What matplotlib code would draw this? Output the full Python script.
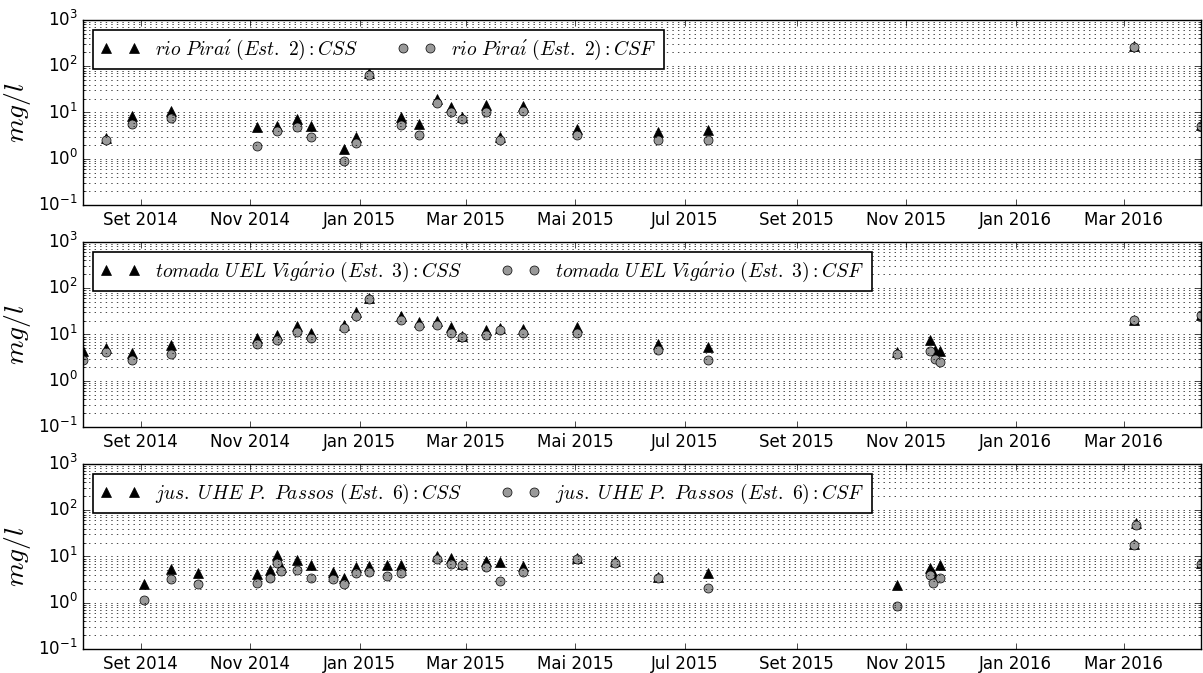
import numpy as np
import pandas as pd
import matplotlib
matplotlib.use("Agg")
import matplotlib.pyplot as plt
import matplotlib.dates as mdates
from matplotlib.ticker import FuncFormatter

# meses em portugues para os rotulos do eixo x
MESES = ["Jan", "Fev", "Mar", "Abr", "Mai", "Jun", "Jul", "Ago", "Set", "Out", "Nov", "Dez"]

# Est. 2 - rio Pirai
datas1 = ["2014-08-13", "2014-08-27", "2014-09-18", "2014-11-05", "2014-11-16", "2014-11-27",
          "2014-12-05", "2014-12-23", "2014-12-30", "2015-01-06", "2015-01-24", "2015-02-03",
          "2015-02-13", "2015-02-21", "2015-02-27", "2015-03-12", "2015-03-20", "2015-04-02",
          "2015-05-02", "2015-06-16", "2015-07-14", "2016-03-07", "2016-04-13"]
css1 = [2.8, 8.6, 11, 4.8, 5.0, 7.1, 5.0, 1.6, 3.0, 70, 8.0, 5.5, 19.7, 13, 7.8, 14.6, 3.0,
        14, 4.5, 3.8, 4.2, 270, 5.3]
csf1 = [2.5, 5.7, 7.5, 1.9, 3.9, 4.9, 3.0, 0.9, 2.2, 64, 5.3, 3.3, 16, 10, 7.4, 10.5, 2.6,
        10.7, 3.2, 2.6, 2.6, 260, 5.1]

# Est. 3 - tomada UEL Vigario
datas2 = ["2014-07-31", "2014-08-13", "2014-08-27", "2014-09-18", "2014-11-05", "2014-11-16",
          "2014-11-27", "2014-12-05", "2014-12-23", "2014-12-30", "2015-01-06", "2015-01-24",
          "2015-02-03", "2015-02-13", "2015-02-21", "2015-02-27", "2015-03-12", "2015-03-20",
          "2015-04-02", "2015-05-02", "2015-06-16", "2015-07-14", "2015-10-27", "2015-11-14",
          "2015-11-17", "2015-11-20", "2016-03-07", "2016-04-13"]
css2 = [4.5, 5.0, 4.0, 5.8, 8.4, 9.8, 15, 10.8, 16.3, 30.7, 62, 24.7, 18.3, 20, 14.5, 9.2,
        12.3, 13.5, 13.2, 14.3, 6.2, 5.4, 4.1, 7.7, 4.6, 4.4, 21, 27]
csf2 = [2.85, 4.1, 2.85, 3.8, 6.3, 7.7, 11.3, 8.4, 13.6, 25.6, 58.7, 20.3, 15, 15.8, 10.8,
        8.8, 9.9, 12.7, 10.8, 10.8, 4.7, 2.85, 3.85, 4.3, 3.0, 2.5, 20.3, 26]

# Est. 6 - jusante UHE P. Passos
datas3 = ["2014-09-03", "2014-09-18", "2014-10-03", "2014-11-05", "2014-11-12", "2014-11-16",
          "2014-11-18", "2014-11-27", "2014-12-05", "2014-12-17", "2014-12-23", "2014-12-30",
          "2015-01-06", "2015-01-16", "2015-01-24", "2015-02-13", "2015-02-21", "2015-02-27",
          "2015-03-12", "2015-03-20", "2015-04-02", "2015-05-02", "2015-05-23", "2015-06-16",
          "2015-07-14", "2015-10-27", "2015-11-14", "2015-11-16", "2015-11-20", "2016-03-07",
          "2016-03-08", "2016-04-13"]
css3 = [2.6, 5.4, 4.4, 4.1, 5.0, 10.5, 5.8, 8.2, 6.4, 4.6, 3.5, 5.9, 6.2, 6.4, 6.4, 10.2,
        9.4, 6.8, 7.95, 7.6, 6.1, 9.5, 8.0, 3.6, 4.4, 2.4, 5.7, 4.3, 6.7, 18.5, 52, 7.3]
csf3 = [1.16, 3.3, 2.5, 2.7, 3.5, 7.4, 4.8, 5.2, 3.5, 3.25, 2.6, 4.45, 4.7, 3.8, 4.45, 8.9,
        6.9, 6.7, 5.9, 2.9, 4.7, 8.9, 7.2, 3.4, 2.1, 0.87, 4.0, 2.7, 3.4, 17.8, 49, 7.0]

estacoes = [r"rio\ Pira\acute{\imath}\ (Est.\ 2)",
            r"tomada\ UEL\ Vig\acute{a}rio\ (Est.\ 3)",
            r"jus.\ UHE\ P.\ Passos\ (Est.\ 6)"]


def formata_data(x, pos=None):
    d = mdates.num2date(x)
    return "%s %d" % (MESES[d.month - 1], d.year)


def main():
    plt.style.use("classic")
    plt.rcParams["figure.facecolor"] = "white"
    plt.rcParams["savefig.facecolor"] = "white"

    series = [(datas1, css1, csf1), (datas2, css2, csf2), (datas3, css3, csf3)]
    todasDatas = pd.to_datetime(datas1 + datas2 + datas3)
    xmin, xmax = todasDatas.min(), todasDatas.max()

    fig, axs = plt.subplots(3, 1, figsize=(12.03, 6.73), dpi=100)
    fig.subplots_adjust(left=0.069, right=0.9983, bottom=0.0357, top=0.9703, hspace=0.2)

    for idx, (datas, css, csf) in enumerate(series):
        ax = axs[idx]
        t = pd.to_datetime(datas)
        ax.plot(t, css, "^", color="k", markersize=6.5,
                label=r"$%s: CSS$" % estacoes[idx])
        ax.plot(t, csf, "o", color="0.6", markeredgecolor="k", markersize=6.5,
                label=r"$%s: CSF$" % estacoes[idx])
        ax.set_yscale("log")
        ax.set_ylim(0.1, 1000)
        ax.set_xlim(xmin, xmax)
        ax.yaxis.grid(True, which="both", linestyle=":", color="k", linewidth=0.5)
        ax.xaxis.set_major_locator(mdates.MonthLocator(bymonth=[1, 3, 5, 7, 9, 11]))
        ax.xaxis.set_major_formatter(FuncFormatter(formata_data))
        ax.set_ylabel(r"$mg/l$", fontsize=20)
        ax.yaxis.set_label_coords(-0.045, 0.5)
        leg = ax.legend(loc="upper left", ncol=2, numpoints=2, fontsize=14,
                        fancybox=False, framealpha=1)
        leg.get_frame().set_linewidth(1.2)

    fig.savefig("out.png", dpi=100)


if __name__ == "__main__":
    main()
